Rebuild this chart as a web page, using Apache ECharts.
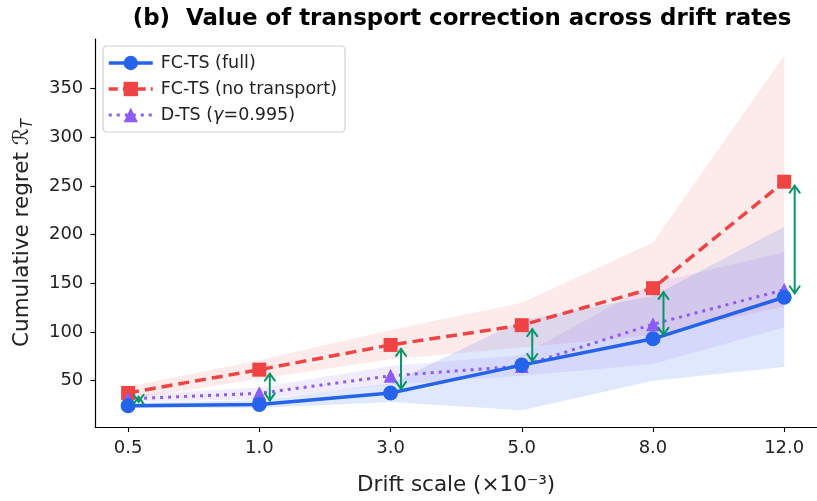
<!DOCTYPE html>
<html>
<head>
<meta charset="utf-8">
<script src="https://cdn.jsdelivr.net/npm/echarts@6/dist/echarts.min.js"></script>
<style>html,body{margin:0;padding:0;background:#fff;}#c{width:817px;height:501px;}</style>
</head>
<body>
<div id="c"></div>
<script>
const categories = ['0.5', '1.0', '3.0', '5.0', '8.0', '12.0'];
const yTicks = [50, 100, 150, 200, 250, 300, 350];

const fullMean = [24.2, 25.6, 37.4, 66, 93, 135.7];
const fullLo   = [22, 22, 28, 19.5, 50, 64];
const fullHi   = [27, 30, 47, 112, 137, 208];

const noTrMean = [37.4, 61.3, 86.7, 107, 145, 254.4];
const noTrLo   = [31, 52, 72, 84, 97, 126];
const noTrHi   = [44, 71, 102, 130, 192, 383.7];

const dtsMean = [31.3, 37, 55, 65, 108, 143.4];
const dtsLo   = [28, 31, 46, 55, 67, 105];
const dtsHi   = [35, 43, 65, 76, 150, 182];

const BLUE = '#2563eb', RED = '#ef4444', PURPLE = '#8b5cf6', GREEN = '#059669';
const FONT = 'DejaVu Sans';

function bandSeries(name, lo, hi, color) {
  return {
    type: 'custom', name: name, silent: true, z: 1,
    data: [[0]],
    renderItem: function (params, api) {
      const pts = [];
      for (let i = 0; i < hi.length; i++) pts.push(api.coord([i, hi[i]]));
      for (let i = lo.length - 1; i >= 0; i--) pts.push(api.coord([i, lo[i]]));
      return { type: 'polygon', shape: { points: pts }, style: { fill: color } };
    }
  };
}

const arrowData = categories.map((c, i) => [i, noTrMean[i], fullMean[i]]);

const chart = echarts.init(document.getElementById('c'), null, { renderer: 'canvas' });
chart.setOption({
  animation: false,
  textStyle: { fontFamily: FONT },
  title: {
    text: '(b)  Value of transport correction across drift rates',
    left: 457, top: 3, textAlign: 'center',
    textStyle: { fontFamily: FONT, fontWeight: 'bold', fontSize: 22.9, color: '#000' }
  },
  legend: {
    orient: 'vertical', left: 103, top: 46,
    data: [
      { name: 'FC-TS (full)', lineStyle: { width: 3.5, color: BLUE } },
      { name: 'FC-TS (no transport)', lineStyle: { width: 3.5, color: RED, type: [9, 5] } },
      { name: 'D-TS (γ=0.995)', lineStyle: { width: 3, color: PURPLE, type: [3, 5] } }
    ],
    formatter: function (name) {
      if (name.indexOf('γ') >= 0) return '{n|D-TS (}{g|γ}{n|=0.995)}';
      return '{n|' + name + '}';
    },
    itemWidth: 44, itemHeight: 18, itemGap: 8,
    padding: [8, 8, 8, 4],
    borderColor: '#d0d0d0', borderWidth: 1.2, borderRadius: 4,
    backgroundColor: 'rgba(255,255,255,0.85)',
    textStyle: {
      fontFamily: FONT, fontSize: 17.5, color: '#222', padding: [0, 0, 0, 3],
      rich: {
        n: { fontFamily: FONT, fontSize: 17.5, color: '#222' },
        g: { fontFamily: FONT, fontSize: 17.5, color: '#222', fontStyle: 'italic' }
      }
    }
  },
  grid: { left: 95.3, top: 39, width: 730, height: 391 },
  xAxis: {
    type: 'value', min: -0.25, max: 5.25,
    splitLine: { show: false },
    axisLine: { onZero: false, lineStyle: { color: '#000', width: 1.2 } },
    axisTick: { show: true, length: 5, lineStyle: { color: '#000', width: 1.1 }, customValues: [0, 1, 2, 3, 4, 5] },
    axisLabel: { customValues: [0, 1, 2, 3, 4, 5], formatter: v => categories[Math.round(v)], fontFamily: FONT, fontSize: 18, color: '#222', margin: 12 },
    name: 'Drift scale (×10⁻³)', nameLocation: 'middle', nameGap: 47,
    nameTextStyle: { fontFamily: FONT, fontSize: 21.5, color: '#222' }
  },
  yAxis: {
    type: 'value', min: 2.4, max: 401,
    splitLine: { show: false },
    axisLine: { show: true, onZero: false, lineStyle: { color: '#000', width: 1.2 } },
    axisTick: { show: true, length: 5, lineStyle: { color: '#000', width: 1.1 }, customValues: yTicks },
    axisLabel: { customValues: yTicks, fontFamily: FONT, fontSize: 18, color: '#222', margin: 12 },
    name: '{a|Cumulative regret }{r|ℛ}{s|T}', nameLocation: 'middle', nameGap: 60,
    nameTextStyle: {
      fontFamily: FONT, fontSize: 21.5, color: '#222',
      rich: {
        a: { fontFamily: FONT, fontSize: 21.5, color: '#222' },
        r: { fontFamily: FONT, fontSize: 21.5, color: '#222', fontStyle: 'italic' },
        s: { fontFamily: FONT, fontSize: 15, color: '#222', fontStyle: 'italic', padding: [10, 0, 0, 0] }
      }
    }
  },
  series: [
    bandSeries('band-notr', noTrLo, noTrHi, 'rgba(239,68,68,0.11)'),
    bandSeries('band-full', fullLo, fullHi, 'rgba(37,99,235,0.15)'),
    bandSeries('band-dts', dtsLo, dtsHi, 'rgba(139,92,246,0.12)'),
    {
      name: 'FC-TS (no transport)', type: 'line', z: 3,
      data: noTrMean.map((v, i) => [i, v]),
      symbol: 'rect', symbolSize: 14,
      lineStyle: { color: RED, width: 3.5, type: [11, 6] },
      itemStyle: { color: RED }
    },
    {
      name: 'D-TS (γ=0.995)', type: 'line', z: 4,
      data: dtsMean.map((v, i) => [i, v]),
      symbol: 'triangle', symbolSize: 14,
      lineStyle: { color: PURPLE, width: 3, type: [3, 5] },
      itemStyle: { color: PURPLE }
    },
    {
      name: 'FC-TS (full)', type: 'line', z: 5,
      data: fullMean.map((v, i) => [i, v]),
      symbol: 'circle', symbolSize: 15,
      lineStyle: { color: BLUE, width: 3.5 },
      itemStyle: { color: BLUE }
    },
    {
      name: 'arrows', type: 'custom', z: 6, silent: true,
      data: arrowData,
      renderItem: function (params, api) {
        const x = api.value(0) + 0.08;
        const a = api.coord([x, api.value(1)]);
        const b = api.coord([x, api.value(2)]);
        const shrink = 4;
        const y1 = a[1] + shrink, y2 = b[1] - shrink;
        const hl = 7, hw = 5;
        const st = { stroke: GREEN, lineWidth: 2, fill: null, lineCap: 'round', lineJoin: 'miter' };
        return {
          type: 'group',
          children: [
            { type: 'line', shape: { x1: a[0], y1: y1, x2: b[0], y2: y2 }, style: st },
            { type: 'polyline', shape: { points: [[a[0] - hw, y1 + hl], [a[0], y1], [a[0] + hw, y1 + hl]] }, style: st },
            { type: 'polyline', shape: { points: [[b[0] - hw, y2 - hl], [b[0], y2], [b[0] + hw, y2 - hl]] }, style: st }
          ]
        };
      }
    }
  ]
});
</script>
</body>
</html>
